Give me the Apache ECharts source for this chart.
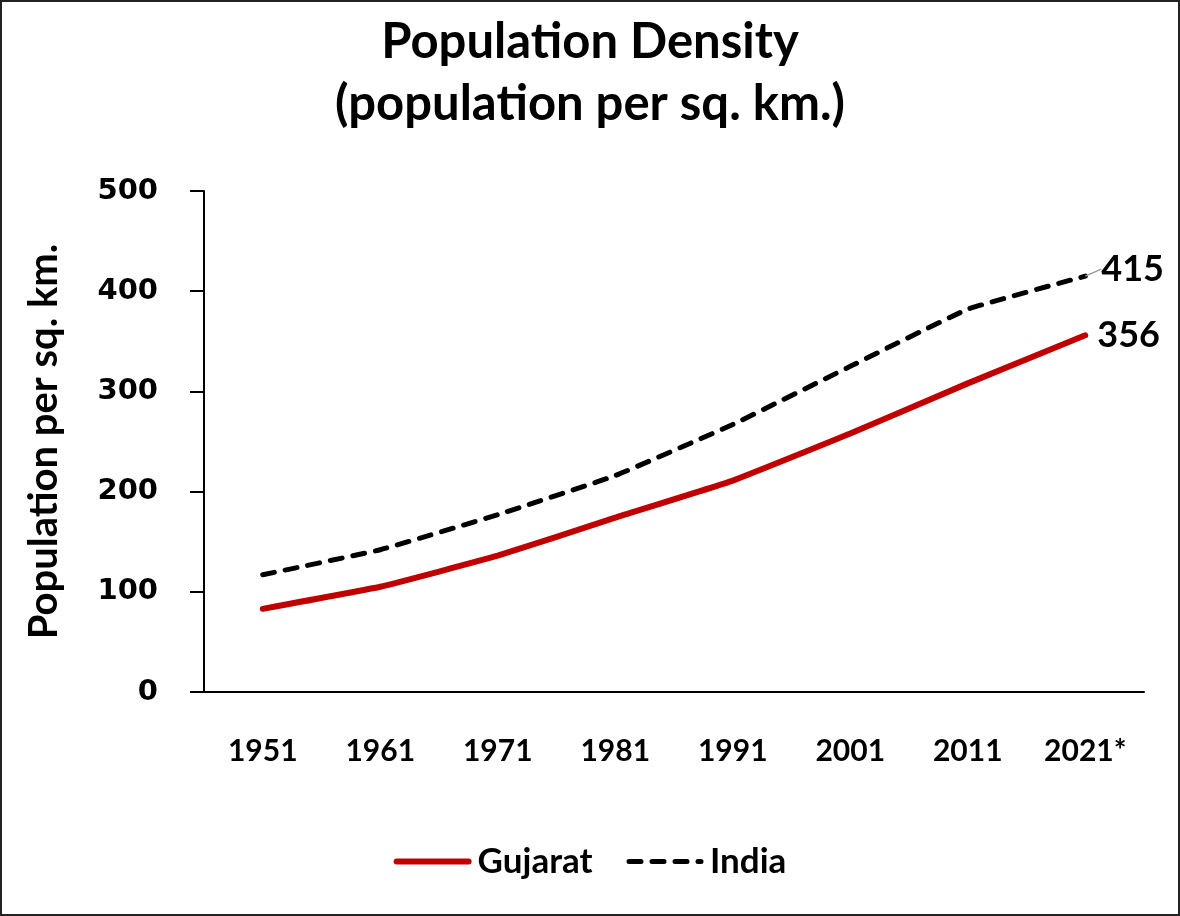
<!DOCTYPE html>
<html>
<head>
<meta charset="utf-8">
<script src="https://cdn.jsdelivr.net/npm/echarts@6/dist/echarts.min.js"></script>
<style>
  html, body { margin: 0; padding: 0; background: #fff; }
  #chart { width: 1180px; height: 916px; box-sizing: border-box; border: 2px solid #222; }
</style>
</head>
<body>
<div id="chart"></div>
<script>
var years = ['1951', '1961', '1971', '1981', '1991', '2001', '2011', '2021*'];
var gujarat = [83, 105, 136, 174, 211, 258, 308, 356];
var india = [117, 142, 177, 216, 267, 325, 382, 415];
var yTicks = [0, 100, 200, 300, 400, 500];

var font = 'Lato, "Open Sans", sans-serif';
var chart = echarts.init(document.getElementById('chart'));

// only the last point of each line carries a value label
function lastLabel(arr) {
    return arr.map(function (v, i) {
        if (i !== arr.length - 1) return v;
        return {
            value: v,
            label: {
                show: true, position: 'right', distance: 12,
                fontFamily: font, fontSize: 36, fontWeight: 'bold', color: '#000'
            }
        };
    });
}

var option = {
    animation: false,
    title: {
        text: 'Population Density\n(population per sq. km.)',
        left: 'center',
        top: 4,
        textStyle: { fontFamily: font, fontSize: 49, fontWeight: 'bold', color: '#000', lineHeight: 62 }
    },
    grid: { left: 202, right: 34, top: 189, bottom: 222 },
    legend: {
        bottom: 30,
        left: 'center',
        itemWidth: 72,
        itemHeight: 14,
        itemGap: 34,
        itemStyle: { opacity: 0 },
        textStyle: { fontFamily: font, fontSize: 35, fontWeight: 'bold', color: '#000', padding: [0, 0, 0, 4] },
        data: [
            { name: 'Gujarat', lineStyle: { width: 6, cap: 'round' } },
            { name: 'India', lineStyle: { width: 5, cap: 'round', type: [12, 11] } }
        ]
    },
    xAxis: {
        type: 'category',
        data: years,
        boundaryGap: true,
        axisLine: { lineStyle: { color: '#000', width: 2 } },
        axisTick: { show: false },
        axisLabel: { margin: 44, fontFamily: font, fontSize: 30, fontWeight: 'bold', color: '#000' }
    },
    yAxis: {
        type: 'value',
        min: yTicks[0],
        max: yTicks[yTicks.length - 1],
        interval: 100,
        name: 'Population per sq. km.',
        nameLocation: 'middle',
        nameGap: 140,
        nameTextStyle: { fontFamily: font, fontSize: 40, fontWeight: 'bold', color: '#000' },
        axisLine: { show: true, lineStyle: { color: '#000', width: 2 } },
        axisTick: { show: true, inside: false, length: 14, lineStyle: { color: '#000', width: 2 } },
        axisLabel: { margin: 46, fontFamily: '"DejaVu Sans", sans-serif', fontSize: 29, fontWeight: 'bold', color: '#000' },
        splitLine: { show: false }
    },
    series: [
        {
            name: 'Gujarat',
            type: 'line',
            data: lastLabel(gujarat),
            symbol: 'circle',
            symbolSize: 0,
            smooth: 0.1,
            lineStyle: { color: '#c00000', width: 6, cap: 'round' },
            itemStyle: { color: '#c00000' }
        },
        {
            name: 'India',
            type: 'line',
            data: lastLabel(india),
            symbol: 'circle',
            symbolSize: 0,
            smooth: 0.1,
            labelLayout: { dx: 4, dy: -7 },
            labelLine: { show: true, smooth: false, lineStyle: { color: '#999', width: 1.5 } },
            lineStyle: { color: '#000', width: 5, type: [12, 11], cap: 'round' },
            itemStyle: { color: '#000' }
        }
    ]
};

option && chart.setOption(option);
</script>
</body>
</html>
